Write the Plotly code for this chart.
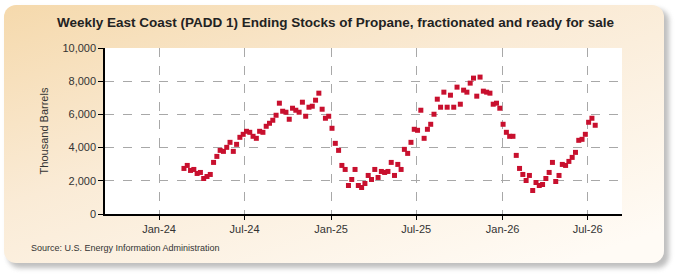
import base64
import pandas as pd
import plotly.graph_objects as go

# ---- data ----
start_date = "2024-02-23"
stocks = [
    2745, 2926, 2624, 2684, 2442, 2503, 2140, 2261, 2382, 3108,
    3470, 3833, 3773, 4015, 4317, 3773, 4196, 4619, 4800, 4982,
    4921, 4680, 4559, 4982, 4921, 5284, 5465, 5647, 5949, 6675,
    6191, 6131, 5707, 6372, 6251, 6131, 6735, 5889, 6433, 6493,
    6856, 7279, 6312, 5768, 5889, 5163, 4256, 3833, 2926, 2684,
    1717, 2080, 2684, 1717, 1596, 1838, 2322, 2080, 2684, 2201,
    2563, 2503, 2563, 3108, 2322, 2987, 2684, 3894, 3652, 4317,
    5103, 5042, 6251, 4559, 5103, 5405, 6010, 6917, 6433, 7340,
    6433, 7158, 6433, 7642, 6614, 7461, 7340, 7884, 8186, 7098,
    8247, 7400, 7340, 7279, 6614, 6675, 6372, 5405, 4921, 4680,
    4680, 3531, 2745, 2382, 2019, 2322, 1415, 1898, 1717, 1777,
    2140, 2503, 3108, 1959, 2322, 2987, 2926, 3168, 3410, 3712,
    4438, 4498, 4800, 5526, 5768, 5345,
]
dates = pd.date_range(start=start_date, periods=len(stocks), freq="7D")

title_text = "Weekly East Coast (PADD 1) Ending Stocks of Propane, fractionated and ready for sale"
y_title = "Thousand Barrels"
source_text = "Source: U.S. Energy Information Administration"

# ---- layout geometry ----
W, H = 675, 275
L, R, T, B = 105, 53, 48, 61
PW, PH = W - L - R, H - T - B

FONT = "Liberation Sans, Arial, sans-serif"

# background frame (rounded, gradient, shadow) as an SVG image
svg = f"""<svg xmlns='http://www.w3.org/2000/svg' width='{W}' height='{H}' viewBox='0 0 {W} {H}'>
<defs>
<linearGradient id='g' x1='0' y1='0' x2='0.85' y2='1'>
<stop offset='0' stop-color='#F5D9AC'/>
<stop offset='0.45' stop-color='#FAEBD6'/>
<stop offset='1' stop-color='#FFFBF5'/>
</linearGradient>
<filter id='s' x='-5%' y='-5%' width='110%' height='115%'><feGaussianBlur stdDeviation='2.5'/></filter>
</defs>
<rect x='8' y='9' width='661' height='259' rx='12' fill='#8a8a8a' opacity='0.55' filter='url(#s)'/>
<rect x='4' y='5' width='660' height='258' rx='12' fill='url(#g)'/>
</svg>"""
svg_uri = "data:image/svg+xml;base64," + base64.b64encode(svg.encode()).decode()

fig = go.Figure()
fig.add_trace(go.Scatter(
    x=dates, y=stocks, mode="markers",
    marker=dict(symbol="square", size=5, color="#C8102E", line=dict(width=0)),
    hoverinfo="x+y", showlegend=False,
))

fig.update_layout(
    width=W, height=H,
    margin=dict(l=L, r=R, t=T, b=B, pad=0),
    paper_bgcolor="white",
    plot_bgcolor="rgba(0,0,0,0)",
    font=dict(family=FONT, size=11, color="#333333"),
    title=dict(
        text=f"<b>{title_text}</b>",
        x=0.497, xref="container", xanchor="center",
        y=1 - 22 / H, yref="container", yanchor="middle",
        font=dict(family=FONT, size=13.5, color="#222222"),
    ),
    xaxis=dict(
        type="date",
        range=["2023-09-08", "2026-09-12"],
        tick0="2024-01-01", dtick="M6", tickformat="%b-%y",
        showgrid=True, gridcolor="#A8A8A8", griddash="dash", gridwidth=1,
        showline=True, linecolor="black", linewidth=1.5,
        ticks="outside", ticklen=4, tickcolor="black",
        tickfont=dict(size=11, color="#333333"),
        zeroline=False, fixedrange=True,
    ),
    yaxis=dict(
        range=[0, 10000], dtick=2000, tickformat=",d",
        showgrid=True, gridcolor="#A8A8A8", griddash="dash", gridwidth=1,
        showline=True, linecolor="black", linewidth=1.5,
        ticks="outside", ticklen=5, tickcolor="black",
        tickfont=dict(size=11, color="#333333"),
        title=dict(text=y_title, font=dict(size=11, color="#333333"), standoff=12),
        zeroline=False, fixedrange=True,
    ),
    images=[dict(
        source=svg_uri, xref="paper", yref="paper",
        x=-L / PW, y=1 + T / PH, sizex=W / PW, sizey=H / PH,
        xanchor="left", yanchor="top", sizing="stretch", layer="below",
    )],
    shapes=[dict(
        type="rect", xref="paper", yref="paper", x0=0, x1=1, y0=0, y1=1,
        fillcolor="white", line=dict(width=0), layer="below",
    )],
    annotations=[dict(
        text=source_text, xref="paper", yref="paper",
        x=(29 - L) / PW, y=-(248 - (T + PH)) / PH,
        xanchor="left", yanchor="middle", showarrow=False,
        font=dict(family=FONT, size=9, color="#333333"),
    )],
)

fig.write_html("out.html")
